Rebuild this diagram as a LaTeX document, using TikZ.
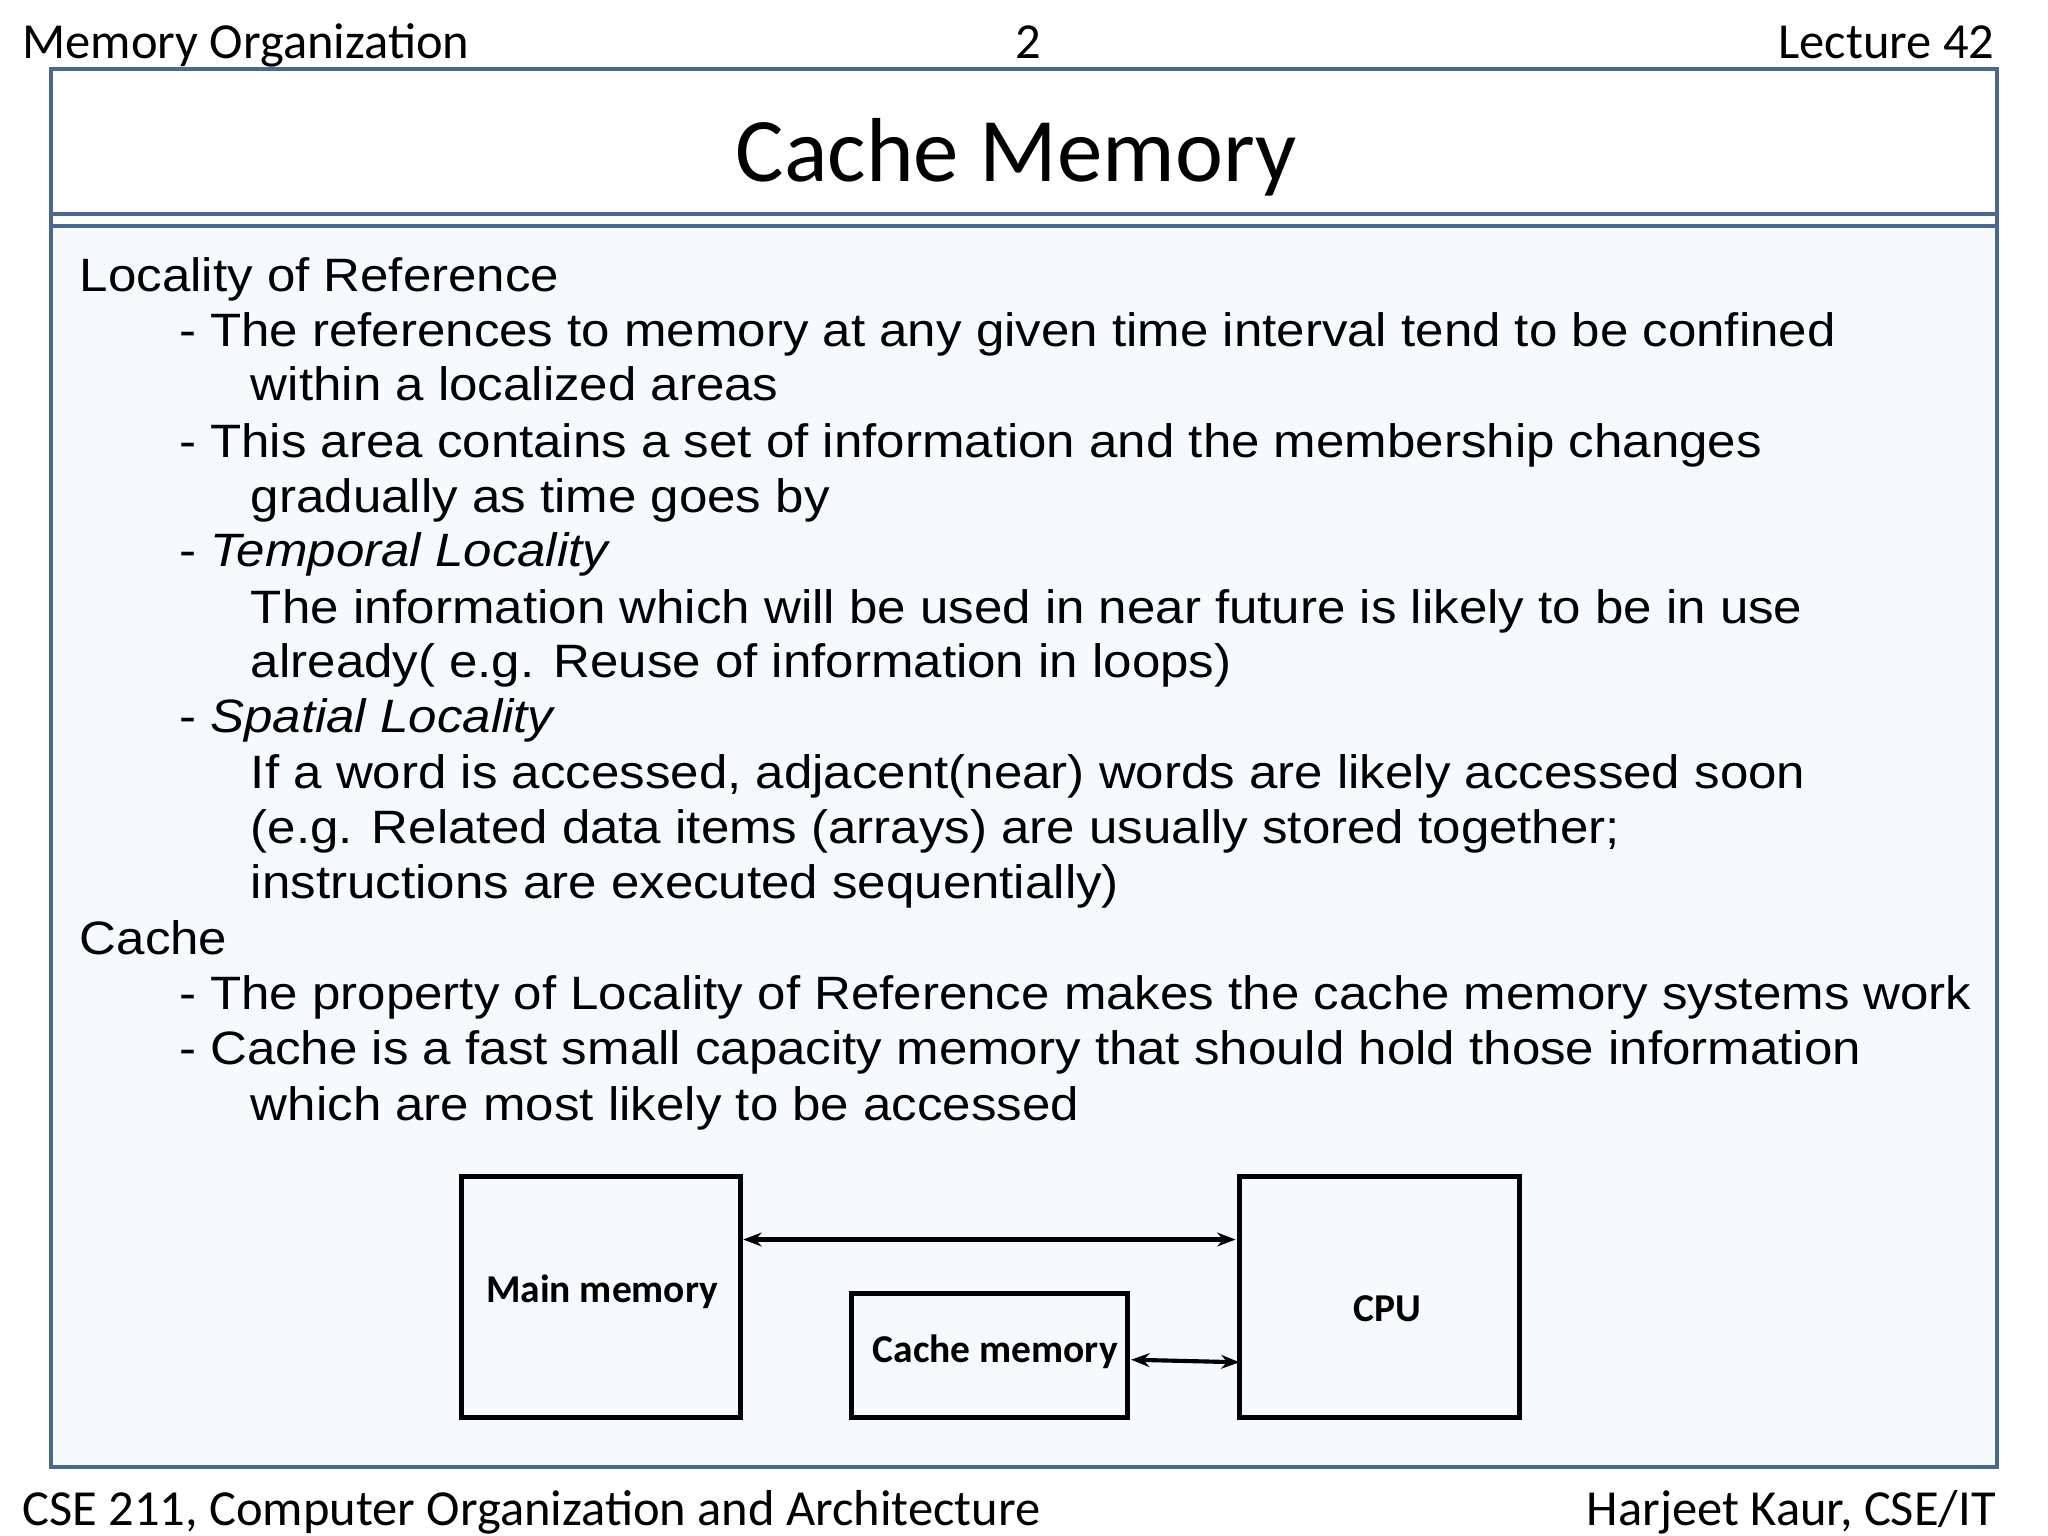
\documentclass[tikz,border=0pt]{standalone}
\usepackage{fontspec}
\setmainfont[FakeStretch=1.09]{Liberation Sans}
\newfontfamily\carlitofont{Carlito}
\usetikzlibrary{arrows.meta}
\definecolor{frameblue}{RGB}{72,104,150}
\definecolor{bodybg}{RGB}{246,250,252}
\begin{document}
\begin{tikzpicture}[x=0.05cm,y=-0.05cm,
  ln/.style={anchor=base west,inner sep=0pt,font=\fontsize{51}{51}\selectfont},
  hd/.style={inner sep=0pt,font=\carlitofont\fontsize{55}{55}\selectfont},
  blk/.style={draw=black,line width=5.5pt,inner sep=0pt},
  lbl/.style={inner sep=0pt,font=\carlitofont\bfseries\fontsize{43}{43}\selectfont},
  arr/.style={line width=4.5pt,{Stealth[length=20pt,width=15pt]}-{Stealth[length=20pt,width=15pt]}}]
\useasboundingbox (0,0) rectangle (1568,1176);
\fill[white] (0,0) rectangle (1568,1176);
\fill[bodybg] (39,172) rectangle (1529,1123);
\draw[frameblue,line width=4.5pt] (39,53) rectangle (1529,1123);
\draw[frameblue,line width=4pt] (39,164) -- (1529,164);
\draw[frameblue,line width=4pt] (39,173) -- (1529,173);
% header / footer
\node[hd,anchor=base west] (h1) at (17,45) {Memory Organization};
\node[hd,anchor=base] (h2) at (787,45) {2};
\node[hd,anchor=base east] (h3) at (1527,45) {Lecture 42};
\node[hd,anchor=base west] (f1) at (17,1168) {CSE 211, Computer Organization and Architecture};
\node[hd,anchor=base east] (f2) at (1528,1168) {Harjeet Kaur, CSE/IT};
\node[inner sep=0pt,anchor=base,font=\carlitofont\fontsize{99}{99}\selectfont] (title) at (778,139) {Cache Memory};
% body
\node[ln] (l1) at (61,223) {Locality of Reference};
\node[ln] (l2) at (137,265) {- The references to memory at any given time interval tend to be confined};
\node[ln] (l3) at (192,307) {within a localized areas};
\node[ln] (l4) at (137,350) {- This area contains a set of information and the membership changes};
\node[ln] (l5) at (192,392) {gradually as time goes by};
\node[ln] (l6) at (137,434) {- \textit{Temporal Locality}};
\node[ln] (l7) at (192,477) {The information which will be used in near future is likely to be in use};
\node[ln] (l8) at (192,519) {already( e.g. Reuse of information in loops)};
\node[ln] (l9) at (137,561) {- \textit{Spatial Locality}};
\node[ln] (l10) at (192,604) {If a word is accessed, adjacent(near) words are likely accessed soon};
\node[ln] (l11) at (192,646) {(e.g. Related data items (arrays) are usually stored together;};
\node[ln] (l12) at (192,688) {instructions are executed sequentially)};
\node[ln] (l13) at (61,731) {Cache};
\node[ln] (l14) at (137,773) {- The property of Locality of Reference makes the cache memory systems work};
\node[ln] (l15) at (137,815) {- Cache is a fast small capacity memory that should hold those information};
\node[ln] (l16) at (192,858) {which are most likely to be accessed};
% diagram
\draw[blk] (353,901) rectangle (567,1085);
\node[lbl] (mm) at (461,989) {Main memory};
\draw[blk] (652,990) rectangle (863,1085);
\node[lbl] (cm) at (762,1035) {Cache memory};
\draw[blk] (949,901) rectangle (1163,1085);
\node[lbl] (cpu) at (1062,1002) {CPU};
\coordinate (a1) at (569,949);
\coordinate (a2) at (946,949);
\coordinate (b1) at (866,1041);
\coordinate (b2) at (949,1043);
\draw[arr] (a1) -- (a2);
\draw[arr] (b1) -- (b2);
\end{tikzpicture}
\end{document}
